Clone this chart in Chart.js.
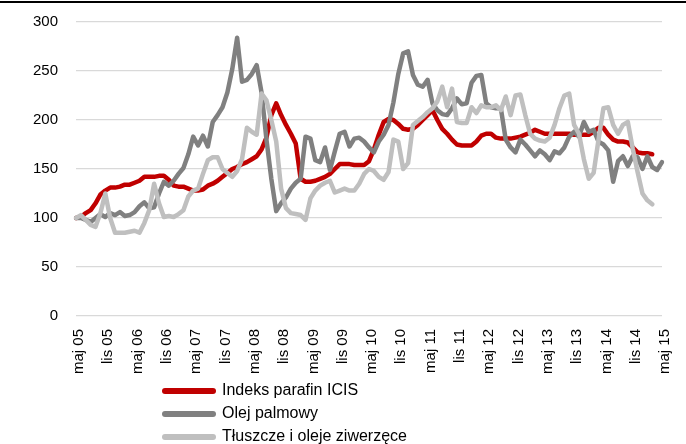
<!DOCTYPE html>
<html>
<head>
<meta charset="utf-8">
<script src="https://cdn.jsdelivr.net/npm/chart.js@4.4.0/dist/chart.umd.min.js"></script>
<style>
body { margin: 0; background: #fff; }
#wrap { width: 686px; height: 444px; }
</style>
</head>
<body>
<div id="wrap"><canvas id="chart_instance" width="686" height="444"></canvas></div>
<script>
// polish month abbreviations, series starts maj 05 and ends maj 15
var monthNames = ["sty", "lut", "mar", "kwi", "maj", "cze", "lip", "sie", "wrz", "paź", "lis", "gru"];
var categories = [];
for (var i = 0; i < 121; i++) {
    var m = (4 + i) % 12;
    var yr = 5 + Math.floor((4 + i) / 12);
    categories.push(monthNames[m] + " " + (yr < 10 ? "0" + yr : "" + yr));
}

var seriesNames = ["Indeks parafin ICIS", "Olej palmowy", "Tłuszcze i oleje ziwerzęce"];

var parafinValues = [
    100, 101, 105, 108, 115, 124, 128, 131, 131, 132, 134, 134,
    136, 138, 142, 142, 142, 143, 143, 139, 133, 132, 132, 130,
    128, 128, 129, 133, 135, 138, 142, 146, 150, 152, 155, 157,
    160, 163, 170, 182, 205, 217, 205, 195, 186, 176, 140, 137,
    137, 138, 140, 142, 145, 150, 155, 155, 155, 154, 154, 154,
    158, 170, 185, 198, 201, 200, 196, 191, 190, 191, 195, 200,
    205, 210, 200, 191, 186, 180, 175, 174, 174, 174, 178, 184,
    186, 186, 182, 181, 181, 181, 182, 183, 185, 187, 190, 188,
    186, 186, 186, 186, 186, 186, 185, 185, 185, 185, 188, 192,
    192, 185, 180, 178, 178, 177, 172, 167, 166, 166, 165
];

var palmOilValues = [
    100, 100, 98, 96, 100, 104, 101, 105, 103, 106, 102, 103,
    106, 112, 116, 110, 111, 125, 137, 133, 138, 145, 151, 165,
    183, 174, 184, 173, 198, 205, 213, 228, 252, 284, 239, 241,
    247, 256, 228, 180, 140, 107, 115, 121, 130, 136, 140, 183,
    181, 159, 157, 172, 149, 168, 186, 188, 173, 181, 182, 178,
    172, 167, 178, 185, 195, 218, 247, 268, 270, 246, 236, 234,
    241, 217, 210, 206, 205, 212, 222, 216, 217, 238, 245, 246,
    217, 213, 212, 212, 180, 172, 167, 180, 175, 169, 163, 169,
    165, 159, 168, 166, 172, 183, 188, 183, 198, 188, 190, 178,
    175, 169, 137, 158, 163, 153, 163, 162, 150, 163, 152, 149,
    157
];

var animalFatValues = [
    100, 103, 98, 93, 91, 105, 125, 100, 85, 85, 85, 86,
    87, 85, 95, 108, 135, 115, 101, 102, 101, 104, 108, 122,
    128, 130, 145, 159, 162, 162, 150, 146, 142, 148, 160, 192,
    188, 185, 227, 220, 200, 178, 130, 110, 105, 104, 103, 98,
    120, 128, 133, 136, 138, 126, 128, 130, 128, 128, 135, 145,
    150, 148, 142, 139, 147, 180, 178, 150, 156, 195, 199, 203,
    208, 212, 219, 234, 213, 232, 198, 197, 197, 213, 207, 215,
    213, 213, 215, 210, 224, 205, 225, 226, 205, 186, 181, 179,
    178, 182, 195, 212, 225, 227, 195, 186, 160, 140, 146, 180,
    212, 213, 195, 186, 195, 198, 171, 147, 125, 118, 114
];

var yTicks = { min: 0, max: 300, step: 50 };

var topRulePlugin = {
    id: 'topRule',
    beforeDraw: function (chart) {
        var ctx = chart.ctx;
        ctx.save();
        ctx.fillStyle = '#fff';
        ctx.fillRect(0, 0, chart.width, chart.height);
        ctx.fillStyle = '#000';
        ctx.fillRect(0, 1, chart.width, 2);
        ctx.restore();
    }
};

// legend is stacked one item per row, below the axis labels
var stackedLegendPlugin = {
    id: 'stackedLegend',
    afterDraw: function (chart) {
        var ctx = chart.ctx;
        ctx.save();
        chart.data.datasets.forEach(function (ds, k) {
            var y = 391 + k * 23;
            ctx.strokeStyle = ds.borderColor;
            ctx.lineWidth = 6;
            ctx.lineCap = 'round';
            ctx.beginPath();
            ctx.moveTo(165, y);
            ctx.lineTo(213, y);
            ctx.stroke();
            ctx.fillStyle = '#000';
            ctx.font = '16px "Liberation Sans", Arial, sans-serif';
            ctx.textBaseline = 'middle';
            ctx.fillText(ds.label, 222, y);
        });
        ctx.restore();
    }
};

var chart_instance;
window.onload = function () {
    var canvas = document.getElementById("chart_instance").getContext('2d');
    chart_instance = new Chart(canvas, {
        type: 'line',
        data: {
            labels: categories,
            datasets: [
                { label: seriesNames[0], data: parafinValues, borderColor: '#C00000', order: 2 },
                { label: seriesNames[1], data: palmOilValues, borderColor: '#808080', order: 1 },
                { label: seriesNames[2], data: animalFatValues, borderColor: '#BFBFBF', order: 0 }
            ]
        },
        options: {
            responsive: false,
            animation: false,
            layout: { padding: { top: 22, right: 24, left: 0, bottom: 0 } },
            elements: {
                line: { borderWidth: 4.5, tension: 0, borderJoinStyle: 'round', borderCapStyle: 'round', fill: false },
                point: { radius: 0 }
            },
            plugins: {
                legend: { display: false },
                tooltip: { enabled: false }
            },
            scales: {
                x: {
                    type: 'category',
                    offset: false,
                    grid: { display: false, drawTicks: false },
                    border: { display: false },
                    afterFit: function (scale) {
                        scale.height = 128;
                        scale.paddingLeft = 0;
                        scale.paddingRight = 0;
                    },
                    ticks: {
                        autoSkip: false,
                        minRotation: 90,
                        maxRotation: 90,
                        padding: 13,
                        labelOffset: 3,
                        color: '#000',
                        font: { family: '"Liberation Sans", Arial, sans-serif', size: 15 },
                        callback: function (value, index) {
                            return index % 6 === 0 ? this.getLabelForValue(value) : '';
                        }
                    }
                },
                y: {
                    min: yTicks.min,
                    max: yTicks.max,
                    grid: { color: '#D9D9D9', lineWidth: 1.3, drawTicks: false },
                    border: { display: false },
                    afterFit: function (scale) {
                        scale.width = 76;
                        scale.paddingTop = 0;
                        scale.paddingBottom = 0;
                    },
                    ticks: {
                        stepSize: yTicks.step,
                        padding: 18,
                        color: '#000',
                        font: { family: '"Liberation Sans", Arial, sans-serif', size: 15 }
                    }
                }
            }
        },
        plugins: [topRulePlugin, stackedLegendPlugin]
    });
};
</script>
</body>
</html>
